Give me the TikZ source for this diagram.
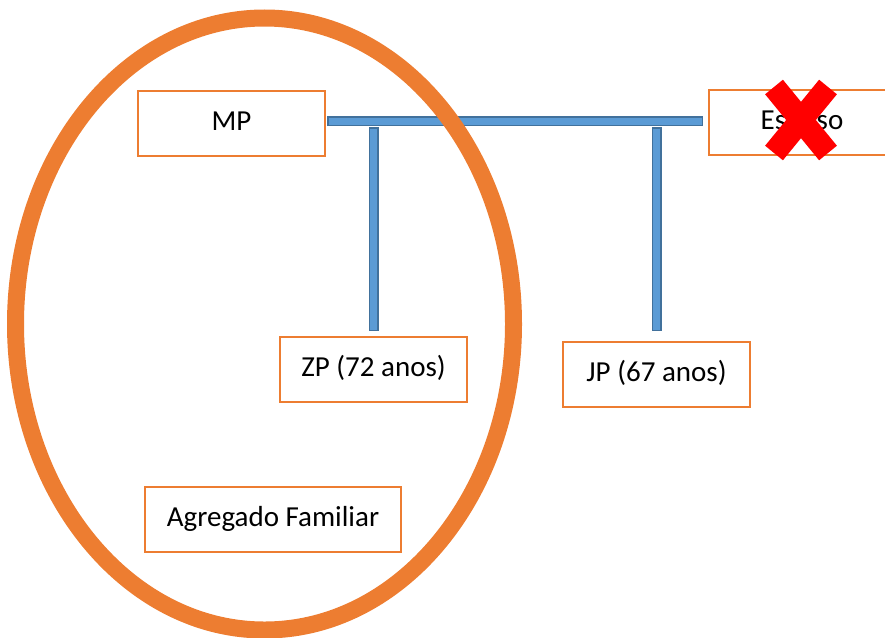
\documentclass[tikz,border=0pt]{standalone}
\usepackage{fontspec}
\setmainfont{Carlito}
\definecolor{boxorange}{HTML}{ED7D31}
\definecolor{barfill}{HTML}{5B9BD5}
\definecolor{barline}{HTML}{41719C}
\begin{document}
\begin{tikzpicture}[
    x=1pt, y=-1pt,
    person/.style={draw=boxorange, line width=2pt, rectangle, fill=white,
                   minimum width=187pt, minimum height=65pt,
                   text height=20pt, text depth=7pt,
                   font=\fontsize{29}{34}\selectfont},
    bar/.style={line width=7pt, draw=barfill,
                preaction={draw=barline, line width=10pt,
                           shorten >=-1.5pt, shorten <=-1.5pt}},
    household/.style={draw=boxorange, line width=17pt},
    cross/.style={draw=red, line width=23pt}
]
\useasboundingbox (0,0) rectangle (885,637);

% Pessoas
\node[person] (mp)  at (231.5,123.5) {MP};
\node[person] (esp) at (802,122.5)   {Esposo};
\node[person] (zp)  at (373.5,369.5) {ZP (72 anos)};
\node[person] (jp)  at (656.5,374.5) {JP (67 anos)};
\node[person, minimum width=256pt] (agf) at (273,519.5) {Agregado Familiar};

% Barras de ligação
\coordinate (hleft)  at (328.5,121);
\coordinate (hright) at (701.5,121);
\coordinate (vtop)   at (0,128.5);
\draw[bar] (hleft) -- (hright);
\draw[bar] (zp.north |- vtop) -- ([yshift=6.5pt]zp.north);
\draw[bar] (jp.north |- vtop) -- ([yshift=11.5pt]jp.north);

% Agregado familiar
\draw[household] (264.5,324) ellipse [x radius=249, y radius=306];

% Cruz sobre o esposo
\draw[cross] (774,87) -- (828,153);
\draw[cross] (828,87) -- (774,153);

\end{tikzpicture}
\end{document}
